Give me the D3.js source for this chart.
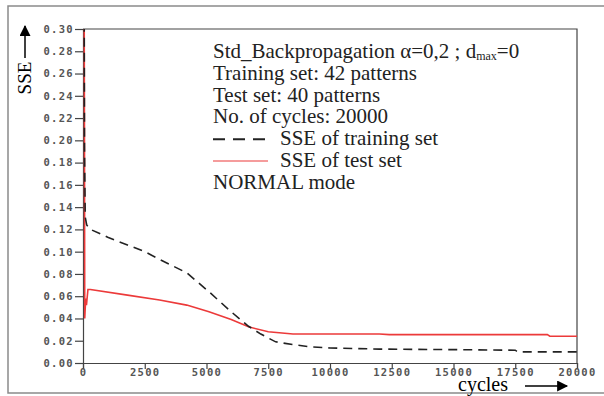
<!DOCTYPE html>
<html>
<head>
<meta charset="utf-8">
<script src="https://cdn.jsdelivr.net/npm/d3@7"></script>
<style>
    body { margin: 0; background: #fff; }
    svg { display: block; }
</style>
</head>
<body>
<svg id="chart" width="604" height="396"></svg>
<script>
// training set SSE (black dashed)
const trainCycles = [40, 60, 90, 150, 300, 1000, 1800, 2500, 3100, 4200, 5100, 6000, 6700, 7200, 7800, 8500, 9200, 10000, 12000, 15000, 17500, 17600, 20000]
const trainSSE = [0.40, 0.195, 0.131, 0.124, 0.12, 0.113, 0.106, 0.100, 0.093, 0.081, 0.064, 0.046, 0.033, 0.026, 0.019, 0.0165, 0.0145, 0.0135, 0.0125, 0.012, 0.0115, 0.0100, 0.0100]

// test set SSE (red)
const testCycles = [40, 60, 70, 110, 140, 200, 300, 1800, 3100, 4200, 5100, 6000, 6700, 7500, 8500, 12000, 12400, 18800, 18900, 20000]
const testSSE = [0.40, 0.195, 0.04, 0.058, 0.052, 0.066, 0.066, 0.061, 0.0566, 0.052, 0.046, 0.039, 0.0325, 0.028, 0.026, 0.026, 0.0255, 0.0255, 0.024, 0.024]

const yTicks = [0, 0.02, 0.04, 0.06, 0.08, 0.10, 0.12, 0.14, 0.16, 0.18, 0.20, 0.22, 0.24, 0.26, 0.28, 0.30]
const xTicks = [0, 2500, 5000, 7500, 10000, 12500, 15000, 17500, 20000]

const legendLines = [
    'Training set: 42 patterns',
    'Test set: 40 patterns',
    'No. of cycles: 20000',
]

const svg = d3.select('#chart')
const mLeft = 83, mRight = 577, mTop = 29, mBottom = 363

const x = d3.scaleLinear().domain([0, 20000]).range([mLeft, mRight])
const y = d3.scaleLinear().domain([0, 0.30]).range([mBottom, mTop])

const SERIF = '"Liberation Serif", "Times New Roman", serif'

// outer frame
svg.append('rect')
    .attr('x', 8).attr('y', 6)
    .attr('width', 610).attr('height', 387)
    .attr('fill', 'none')
    .attr('stroke', '#8a8a8a')
    .attr('stroke-width', 1.5)

const defs = svg.append('defs')
defs.append('clipPath').attr('id', 'clip')
    .append('rect')
    .attr('x', mLeft).attr('y', mTop)
    .attr('width', mRight - mLeft).attr('height', mBottom - mTop)

defs.append('marker')
    .attr('id', 'arrow')
    .attr('viewBox', '0 0 10 10')
    .attr('refX', 9).attr('refY', 5)
    .attr('markerWidth', 13).attr('markerHeight', 11)
    .attr('markerUnits', 'userSpaceOnUse')
    .attr('orient', 'auto')
    .append('path')
    .attr('d', 'M0,0 L10,5 L0,10 Z')
    .attr('fill', '#000')

const tickFont = (sel) => sel
    .attr('font-family', '"DejaVu Sans Mono", monospace')
    .attr('font-size', 10.5)
    .attr('font-weight', 'bold')
    .attr('letter-spacing', 1.3)
    .attr('fill', '#555')

// plot box (top and right)
svg.append('path')
    .attr('d', `M${mLeft},${mTop}H${mRight}V${mBottom}`)
    .attr('fill', 'none')
    .attr('stroke', '#444')
    .attr('stroke-width', 1.2)

// y axis
const yAxis = svg.append('g')
    .attr('transform', `translate(${mLeft},0)`)
    .call(d3.axisLeft(y).tickValues(yTicks).tickSize(8).tickPadding(1).tickFormat(d3.format('.2f')))
yAxis.select('.domain').attr('stroke', '#444').attr('stroke-width', 1.2)
yAxis.selectAll('line').attr('stroke', '#444').attr('stroke-width', 1.2)
yAxis.selectAll('text').call(tickFont)

// x axis
const xAxis = svg.append('g')
    .attr('transform', `translate(0,${mBottom})`)
    .call(d3.axisBottom(x).tickValues(xTicks).tickSize(6).tickPadding(0).tickFormat(d3.format('d')))
xAxis.select('.domain').attr('stroke', '#444').attr('stroke-width', 1.2)
xAxis.selectAll('line').attr('stroke', '#444').attr('stroke-width', 1.2)
xAxis.selectAll('text').call(tickFont)

// series
const line = d3.line().x((d) => x(d[0])).y((d) => y(d[1]))
const plot = svg.append('g').attr('clip-path', 'url(#clip)')

plot.append('path')
    .datum(d3.zip(testCycles, testSSE))
    .attr('d', line)
    .attr('fill', 'none')
    .attr('stroke', '#ec3a3a')
    .attr('stroke-width', 1.6)

plot.append('path')
    .datum(d3.zip(trainCycles, trainSSE))
    .attr('d', line)
    .attr('fill', 'none')
    .attr('stroke', '#222')
    .attr('stroke-width', 1.6)
    .attr('stroke-dasharray', '9,6')

// axis titles
svg.append('text')
    .attr('transform', 'translate(31,78) rotate(-90)')
    .attr('text-anchor', 'middle')
    .attr('font-family', SERIF)
    .attr('font-size', 19)
    .text('SSE')
svg.append('line')
    .attr('x1', 25).attr('y1', 58).attr('x2', 25).attr('y2', 26)
    .attr('stroke', '#000').attr('stroke-width', 1.5)
    .attr('marker-end', 'url(#arrow)')

svg.append('text')
    .attr('x', 458).attr('y', 391)
    .attr('font-family', SERIF)
    .attr('font-size', 20)
    .text('cycles')
svg.append('line')
    .attr('x1', 525).attr('y1', 386).attr('x2', 567).attr('y2', 386)
    .attr('stroke', '#000').attr('stroke-width', 1.5)
    .attr('marker-end', 'url(#arrow)')

// legend / annotation
const serif = (sel) => sel
    .attr('font-family', SERIF)
    .attr('font-size', 21)
    .attr('fill', '#222')

const lx = 213, ly0 = 58, dy = 21.8

const title = svg.append('text').attr('x', lx).attr('y', ly0).call(serif)
title.append('tspan').text('Std_Backpropagation α=0,2 ; d')
title.append('tspan').attr('font-size', 12).attr('dy', 2).text('max')
title.append('tspan').attr('dy', -2).text('=0')

legendLines.forEach((t, i) => {
    svg.append('text').attr('x', lx).attr('y', ly0 + dy * (i + 1)).call(serif).text(t)
})

svg.append('line')
    .attr('x1', lx).attr('x2', 268)
    .attr('y1', ly0 + dy * 4 - 6).attr('y2', ly0 + dy * 4 - 6)
    .attr('stroke', '#222').attr('stroke-width', 2)
    .attr('stroke-dasharray', '12,8')
svg.append('text').attr('x', 280).attr('y', ly0 + dy * 4).call(serif).text('SSE of training set')

svg.append('line')
    .attr('x1', lx).attr('x2', 268)
    .attr('y1', ly0 + dy * 5 - 6).attr('y2', ly0 + dy * 5 - 6)
    .attr('stroke', '#ec3a3a').attr('stroke-width', 1.2)
svg.append('text').attr('x', 280).attr('y', ly0 + dy * 5).call(serif).text('SSE of test set')

svg.append('text').attr('x', lx).attr('y', ly0 + dy * 6).call(serif).text('NORMAL mode')
</script>
</body>
</html>
